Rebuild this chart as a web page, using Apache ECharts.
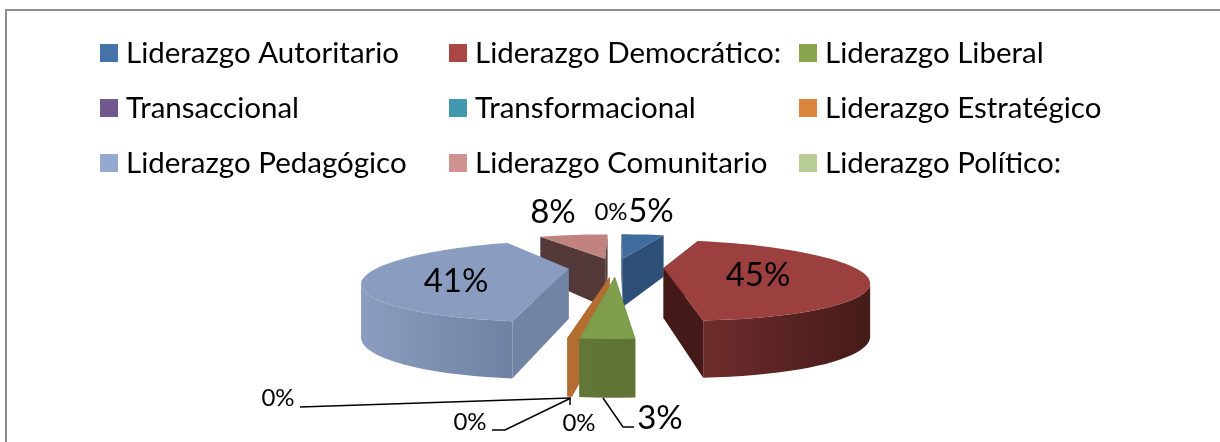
<!DOCTYPE html>
<html><head><meta charset="utf-8">
<style>html,body{margin:0;padding:0;background:#fff}#c{width:1220px;height:442px}</style>
<script src="https://cdn.jsdelivr.net/npm/echarts@6/dist/echarts.min.js"></script>
</head><body><div id="c"></div>
<script>
// ---- data ----
const categories = ['Liderazgo Autoritario','Liderazgo Democrático:','Liderazgo Liberal','Transaccional','Transformacional','Liderazgo Estratégico','Liderazgo Pedagógico','Liderazgo Comunitario','Liderazgo Político:'];
const values = [5, 45, 3, 0, 0, 0.25, 41, 8, 0];
const labels = ['5%','45%','3%','0%','0%','0%','41%','8%','0%'];
// ---- styles ----
const legendColors = ['#4572A7','#AA4643','#89A54E','#71588F','#4198AF','#DB843D','#93A9CF','#D19392','#B9CD96'];
const topColors  = ['#3F6B9F','#9C3F3F','#7F9E4B','#71588F','#4198AF','#B46D31','#8A9DC0','#C08380','#B9CD96'];
const wallColors = ['#2E5078','#441A18','#627636','#4D3C62','#2C6778','#B46D31','#7284A3','#53393A','#7D8C66'];
const sideFrom   = ['#2E5078','#6E2C2C','#627636','#4D3C62','#2C6778','#B46D31','#8A9DC0','#53393A','#7D8C66'];
const sideTo     = ['#2E5078','#451B18','#5F7335','#4D3C62','#2C6778','#B46D31','#7082A2','#53393A','#7D8C66'];
// label placement: [x, y, font size]; leader: elbow points from the slice's outer edge
const labelPlace = [
  [651,211,33],[758,275,33],[660,418,33],[278,398,24],[470,422,24],[579,423,24],[456,281,33],[553,212,33],[611,212,24]
];
const leaders = { 2:[[603,398],[623,427],[634,427]], 3:[[570,398],[300,407]], 4:[[571,398],[505,430],[492,430]], 5:[[570,398],[570,405]] };
// ---- projection ----
const C = {x:616, y:267, A:190, B:36, k:0.3, explode:0.25};
const total = values.reduce((a,b)=>a+b,0);
const ang = v => echarts.number.linearMap(v,[0,total],[0,Math.PI*2]);
const proj = (u,v) => { const s = 1/(1+C.k*v); return [C.x+C.A*u*s, C.y-C.B*v*s]; };
const depth = v => 50-7*v;
const down = (p,v) => [p[0],p[1]+depth(v)];

function renderSlice(i){
  const start = ang(values.slice(0,i).reduce((a,b)=>a+b,0));
  const end = start+ang(values[i]);
  const children = [];
  if(values[i]>0){
    const mid=(start+end)/2, eu=C.explode*Math.sin(mid), ev=C.explode*Math.cos(mid);
    const n=Math.max(2,Math.ceil((end-start)/0.05));
    const pts=[];
    for(let j=0;j<=n;j++){const a=start+(end-start)*j/n;pts.push([eu+Math.sin(a),ev+Math.cos(a)]);}
    const rim=pts.map(p=>proj(p[0],p[1]));
    const apex=proj(eu,ev);
    const wall=(p)=>({type:'polygon',shape:{points:[apex,proj(p[0],p[1]),down(proj(p[0],p[1]),p[1]),down(apex,ev)]},style:{fill:wallColors[i]},silent:true});
    children.push(wall(pts[0]),wall(pts[n]));
    // outer side: only the rim stretch that faces the viewer (x falls as the angle grows)
    const front=[];
    for(let j=0;j<n;j++){ if(rim[j+1][0]<rim[j][0]){ if(!front.length) front.push(j); front.push(j+1); } }
    if(front.length){
      const topEdge=front.map(j=>rim[j]);
      const bottomEdge=front.map(j=>down(rim[j],pts[j][1])).reverse();
      children.push({type:'polygon',shape:{points:topEdge.concat(bottomEdge)},
        style:{fill:new echarts.graphic.LinearGradient(0,0,1,0,[{offset:0,color:sideFrom[i]},{offset:1,color:sideTo[i]}])},silent:true});
    }
    children.push({type:'polygon',shape:{points:[apex].concat(rim)},style:{fill:topColors[i]},silent:true});
  }
  const lp=labelPlace[i];
  if(leaders[i]){
    children.push({type:'polyline',z2:50,shape:{points:leaders[i]},style:{stroke:'#000',lineWidth:1.5,fill:null},silent:true});
  }
  children.push({type:'text',z2:60,style:{x:lp[0],y:lp[1],text:labels[i],fill:'#000',font:lp[2]+'px Lato',align:'center',verticalAlign:'middle'},silent:true});
  return {type:'group',children};
}
// painter's order: back slices first
const order=[0,7,8,6,1,3,4,5,2];
const series=order.map(i=>({
  type:'custom',name:categories[i],coordinateSystem:'none',silent:true,
  itemStyle:{color:legendColors[i]},
  data:[values[i]],
  animation:false,
  renderItem:()=>renderSlice(i)
}));
const col=(start,x)=>({
  orient:'vertical',left:x,top:33,itemWidth:18,itemHeight:18,itemGap:25,icon:'rect',
  data:[0,1,2].map(r=>categories[start+r*3]),
  textStyle:{fontFamily:'Lato',fontSize:29.5,lineHeight:30,color:'#000',padding:[0,0,0,3]},
  selectedMode:false
});
const chart=echarts.init(document.getElementById('c'),null,{renderer:'canvas'});
chart.setOption({
  animation:false,
  backgroundColor:'#fff',
  graphic:[{type:'rect',shape:{x:6,y:10,width:1400,height:600},style:{fill:'none',stroke:'#8c8c8c',lineWidth:2},silent:true}],
  legend:[col(0,95),col(1,444),col(2,794)],
  series
});
</script></body></html>
